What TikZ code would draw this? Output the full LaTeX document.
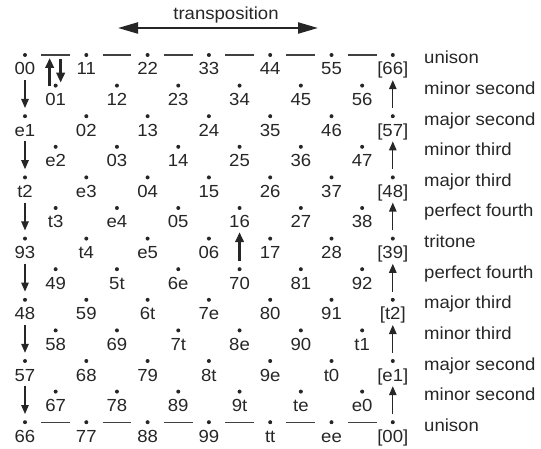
\documentclass[tikz,border=0pt]{standalone}
\usepackage{fontspec}
\setmainfont[FakeStretch=1.06]{Liberation Sans}
\usetikzlibrary{calc}
\usetikzlibrary{arrows.meta}

\begin{document}
\begin{tikzpicture}[%
  >={Stealth[inset=0pt,length=9pt,width=7.5pt]},
  x=1pt, y=-1pt,
  every node/.style={font=\fontsize{17.5}{19}\selectfont, text=black!85},
  pc/.style={circle, fill=black!85, inner sep=0pt, minimum size=4pt},
  pclabel/.style={inner sep=0pt, text height=12pt, text depth=3pt},
  ivlabel/.style={inner sep=0pt, anchor=base west},
  gline/.style={black!75, line width=1.1pt, shorten <=14pt, shorten >=14pt},
  movearrow/.style={->, black!85, line width=1.2pt},
  bigarrow/.style={-{Stealth[inset=0pt,length=10pt,width=8.5pt]}, black!85, line width=2.4pt},
]

  \useasboundingbox (0,0) rectangle (541,449);

  % dyads: even rows on the columns, odd rows in between
  \foreach \r/\row in {%
    0/{00,11,22,33,44,55,{[66]}},
    1/{01,12,23,34,45,56},
    2/{e1,02,13,24,35,46,{[57]}},
    3/{e2,03,14,25,36,47},
    4/{t2,e3,04,15,26,37,{[48]}},
    5/{t3,e4,05,16,27,38},
    6/{93,t4,e5,06,17,28,{[39]}},
    7/{49,5t,6e,70,81,92},
    8/{48,59,6t,7e,80,91,{[t2]}},
    9/{58,69,7t,8e,90,t1},
    10/{57,68,79,8t,9e,t0,{[e1]}},
    11/{67,78,89,9t,te,e0},
    12/{66,77,88,99,tt,ee,{[00]}}} {
    \foreach \t [count=\c from 0] in \row {
      \pgfmathsetmacro{\px}{25+61.3*(\c+0.5*mod(\r,2))}
      \pgfmathsetmacro{\py}{55+30.6*\r}
      \node[pc] (d\r-\c) at (\px,\py) {};
      \node[pclabel] (l\r-\c) at ($(d\r-\c)+(0,15.5)$) {\t};
    }
  }

  % intervals
  \foreach \k/\iv in {0/unison, 1/minor second, 2/major second, 3/minor third,
    4/major third, 5/perfect fourth, 6/tritone, 7/perfect fourth,
    8/major third, 9/minor third, 10/major second, 11/minor second, 12/unison} {
    \node[ivlabel] (iv\k) at (424,64+30.6*\k) {\iv};
  }

  % unison rows
  \foreach \c [evaluate=\c as \n using int(\c+1)] in {0,...,5} {
    \draw[gline] (d0-\c) -- (d0-\n);
    \draw[gline] (d12-\c) -- (d12-\n);
  }

  % down on the left, up on the right
  \foreach \r [evaluate=\r as \p using int(\r-1),
               evaluate=\r as \q using int(\r+1)] in {1,3,...,11} {
    \draw[movearrow, shorten <=2pt, shorten >=6pt] (l\p-0) -- (d\q-0);
    \draw[movearrow, shorten <=6pt, shorten >=2pt] (d\q-6) -- (l\p-6);
  }

  \draw[bigarrow] ($(d1-0)+(-6,0)$) -- ($(d1-0 |- d0-0)+(-6,3)$);
  \draw[bigarrow] ($(d1-0 |- d0-0)+(5,4)$) -- ($(d1-0)+(5,-3)$);
  \draw[bigarrow, shorten <=6pt, shorten >=1pt] (d7-3) -- (l5-3);

  % transposition
  \coordinate (tl) at (118,28);
  \coordinate (tr) at (318,28);
  \node (tp) at (226,15) {transposition};
  \draw[{Stealth[inset=0pt,length=20pt,width=11pt]}-{Stealth[inset=0pt,length=20pt,width=11pt]},
    black!85, line width=2.2pt] (tl) -- (tr);

\end{tikzpicture}
\end{document}
